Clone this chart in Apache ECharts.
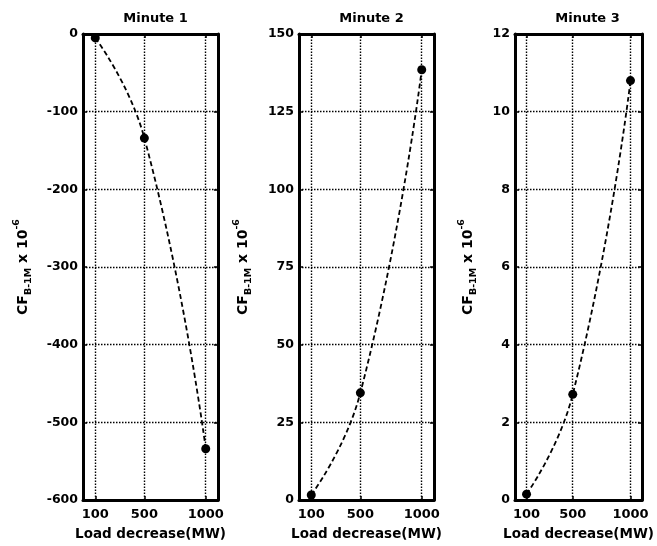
<!DOCTYPE html>
<html><head><meta charset="utf-8">
<script src="https://cdn.jsdelivr.net/npm/echarts@6/dist/echarts.min.js"></script>
<style>html,body{margin:0;padding:0;background:#fff}#c{width:657px;height:546px}</style>
</head><body><div id="c"></div>
<script>
// ---- data ----
const loadDecrease = [100, 500, 1000];
const xTickValues = [100, 500, 1000];
const minute1 = [-5, -134, -534];
const minute2 = [1.6, 34.5, 138.5];
const minute3 = [0.15, 2.72, 10.8];
const panelTitles = ['Minute 1', 'Minute 2', 'Minute 3'];
const yMins = [-600, 0, 0];
const yMaxs = [0, 150, 12];
const ySteps = [100, 25, 2];
const xLabel = 'Load decrease(MW)';

const seriesData = [minute1, minute2, minute3];
const FONT = 'DejaVu Sans';
const lefts = [83, 299, 515];
const W = 135, TOP = 34, H = 470;
const nameGaps = [49, 45, 36];

const chart = echarts.init(document.getElementById('c'), null, {renderer: 'canvas'});
const grid = [], xAxis = [], yAxis = [], series = [], title = [];
const dotted = [1.5, 1.5];
for (let i = 0; i < 3; i++) {
  grid.push({left: lefts[i], top: TOP, width: W, height: H, containLabel: false});
  title.push({
    text: panelTitles[i], left: lefts[i] + W / 2, top: 7, textAlign: 'center',
    textStyle: {fontFamily: FONT, fontWeight: 'bold', fontSize: 13, color: '#000'}
  });
  const axLine = {show: true, onZero: false, lineStyle: {color: '#000', width: 3}};
  xAxis.push({
    type: 'value', gridIndex: i, min: 0, max: 1100, position: 'bottom',
    axisLine: axLine,
    axisTick: {show: true, inside: true, length: 4, customValues: xTickValues, lineStyle: {color: '#000', width: 1.5}},
    axisLabel: {show: true, customValues: xTickValues, margin: 8, color: '#000',
      fontFamily: FONT, fontWeight: 'bold', fontSize: 13, formatter: v => String(v)},
    splitLine: {show: false},
    name: xLabel, nameLocation: 'middle', nameGap: 27,
    nameTextStyle: {fontFamily: FONT, fontWeight: 'bold', fontSize: 13.5, color: '#000'}
  });
  xAxis.push({
    type: 'value', gridIndex: i, min: 0, max: 1100, position: 'top',
    axisLine: axLine,
    axisTick: {show: true, inside: true, length: 4, customValues: xTickValues, lineStyle: {color: '#000', width: 1.5}},
    axisLabel: {show: false}, splitLine: {show: false}
  });
  yAxis.push({
    type: 'value', gridIndex: i, min: yMins[i], max: yMaxs[i], interval: ySteps[i], position: 'left',
    axisLine: axLine,
    axisTick: {show: true, inside: true, length: 4, lineStyle: {color: '#000', width: 1.5}},
    axisLabel: {margin: 5, color: '#000', fontFamily: FONT, fontWeight: 'bold', fontSize: 12.5},
    splitLine: {show: true, lineStyle: {color: '#000', width: 1.4, type: dotted}},
    name: '{m|CF}{s|B-1M}{m| x 10}{p|-6}', nameLocation: 'middle', nameRotate: 90, nameGap: nameGaps[i],
    nameTextStyle: {
      fontFamily: FONT, fontWeight: 'bold', fontSize: 13.5, color: '#000',
      rich: {
        m: {fontFamily: FONT, fontWeight: 'bold', fontSize: 14, color: '#000', lineHeight: 22, verticalAlign: 'middle'},
        s: {fontFamily: FONT, fontWeight: 'bold', fontSize: 9.5, color: '#000', lineHeight: 22, verticalAlign: 'bottom'},
        p: {fontFamily: FONT, fontWeight: 'bold', fontSize: 9.5, color: '#000', lineHeight: 22, verticalAlign: 'top'}
      }
    }
  });
  yAxis.push({
    type: 'value', gridIndex: i, min: yMins[i], max: yMaxs[i], interval: ySteps[i], position: 'right',
    axisLine: axLine,
    axisTick: {show: true, inside: true, length: 4, lineStyle: {color: '#000', width: 1.5}},
    axisLabel: {show: false}, splitLine: {show: false}
  });
  series.push({
    type: 'line', xAxisIndex: i * 2, yAxisIndex: i * 2, smooth: 0.5,
    data: loadDecrease.map((x, k) => [x, seriesData[i][k]]),
    symbol: 'circle', symbolSize: 9,
    itemStyle: {color: '#000'},
    lineStyle: {color: '#000', width: 1.8, type: [5, 3]},
    markLine: {
      silent: true, symbol: 'none', label: {show: false},
      lineStyle: {color: '#000', width: 1.4, type: dotted},
      data: xTickValues.map(v => ({xAxis: v}))
    },
    z: 3
  });
}
chart.setOption({animation: false, backgroundColor: '#fff', title, grid, xAxis, yAxis, series});
</script>
</body></html>
